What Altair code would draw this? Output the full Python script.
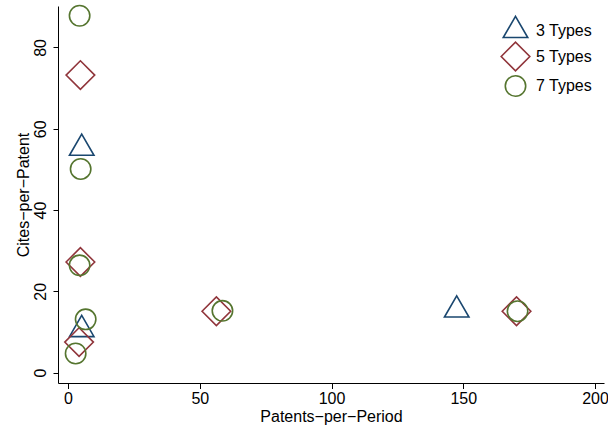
import altair as alt
import pandas as pd

# --- data ---
series_names = ["3 Types", "5 Types", "7 Types"]
x3 = [5.2, 5.2, 147.5]
y3 = [55.2, 10.6, 15.4]
x5 = [4.7, 4.7, 4.2, 56.3, 170.2]
y5 = [73.2, 27.2, 7.5, 15.1, 15.1]
x7 = [4.4, 4.8, 4.4, 6.7, 2.9, 58.6, 170.6]
y7 = [87.8, 50.1, 26.4, 13.1, 4.7, 15.2, 15.1]

x_ticks = [0, 50, 100, 150, 200]
y_ticks = [0, 20, 40, 60, 80]

colors = ["#1a476f", "#90353b", "#55752f"]
# centroid-centred triangle, builtin diamond and circle
shapes = ["M0,-1.155L1,0.577L-1,0.577Z", "diamond", "circle"]
sizes = [600, 820, 416]

rows = []
for name, xs, ys in zip(series_names, [x3, x5, x7], [y3, y5, y7]):
    for a, b in zip(xs, ys):
        rows.append({"series": name, "x": a, "y": b})
df = pd.DataFrame(rows)

FONT = "Liberation Sans"
FS = 16

legend = alt.Legend(
    title=None,
    orient="none",
    legendX=442,
    legendY=11,
    labelFont=FONT,
    labelFontSize=FS,
    labelColor="black",
    labelOffset=5,
    rowPadding=-4,
    padding=0,
    symbolStrokeWidth=1.6,
    symbolOpacity=1,
)

chart = (
    alt.Chart(df)
    .mark_point(filled=False, strokeWidth=1.6, opacity=1)
    .encode(
        x=alt.X(
            "x:Q",
            scale=alt.Scale(domain=[-3.8, 203.4], nice=False, zero=False),
            axis=alt.Axis(
                values=x_ticks,
                title="Patents\u2212per\u2212Period",
                titleBaseline="alphabetic",
                titleY=38,
                tickSize=5.5,
                labelPadding=1.5,
            ),
        ),
        y=alt.Y(
            "y:Q",
            scale=alt.Scale(domain=[-2.56, 90.2], nice=False, zero=False),
            axis=alt.Axis(
                values=y_ticks,
                title="Cites\u2212per\u2212Patent",
                labelAngle=270,
                labelAlign="center",
                labelBaseline="bottom",
                labelPadding=5,
                tickSize=5,
                titleAngle=270,
                titleBaseline="alphabetic",
                titleX=-30,
            ),
        ),
        color=alt.Color(
            "series:N",
            scale=alt.Scale(domain=series_names, range=colors),
            legend=legend,
        ),
        shape=alt.Shape(
            "series:N",
            scale=alt.Scale(domain=series_names, range=shapes),
            legend=legend,
        ),
        size=alt.Size(
            "series:N",
            scale=alt.Scale(type="ordinal", domain=series_names, range=sizes),
            legend=legend,
        ),
    )
    .properties(
        width=546,
        height=377,
        background="white",
        padding={"left": 58, "top": 6, "right": 4, "bottom": 42},
        autosize=alt.AutoSizeParams(type="none"),
    )
    .configure_view(stroke=None)
    .configure_axis(
        grid=False,
        domainColor="black",
        domainWidth=1,
        tickColor="black",
        tickWidth=1,
        labelColor="black",
        labelFont=FONT,
        labelFontSize=FS,
        titleColor="black",
        titleFont=FONT,
        titleFontSize=FS,
        titleFontWeight="normal",
    )
)

chart.save("out.html", embed_options={"renderer": "svg", "actions": False})
